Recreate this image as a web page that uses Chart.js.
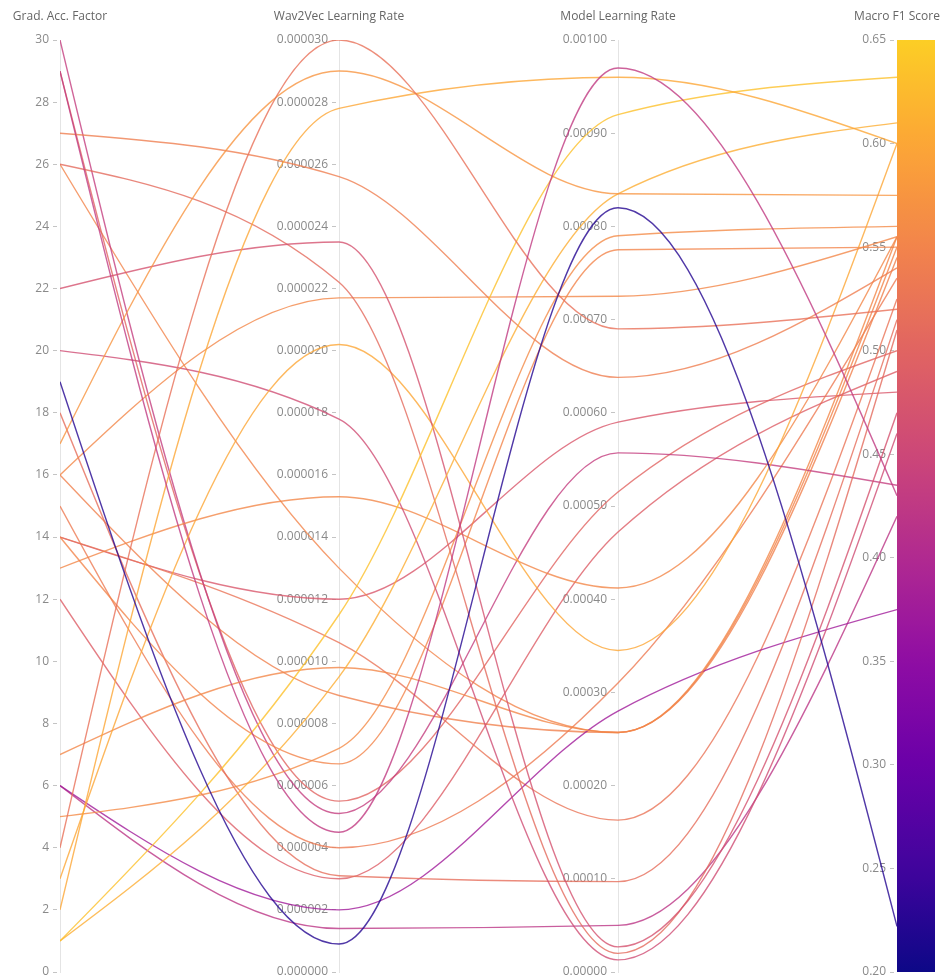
<!DOCTYPE html>
<html>
<head>
<meta charset="utf-8">
<script src="https://cdn.jsdelivr.net/npm/chart.js@4.4.1/dist/chart.umd.min.js"></script>
<style>
  html, body { margin: 0; padding: 0; background: #ffffff; }
  #wrap { width: 941px; height: 980px; }
</style>
</head>
<body>
<div id="wrap"><canvas id="c" width="941" height="980"></canvas></div>
<script>
// ---------------- data ----------------
const axisNames = ['Grad. Acc. Factor', 'Wav2Vec Learning Rate', 'Model Learning Rate', 'Macro F1 Score'];
const axisMin = [0, 0, 0, 0.20];
const axisMax = [30, 0.000030, 0.00100, 0.65];
const axisStep = [2, 0.000002, 0.0001, 0.05];
const axisDecimals = [0, 6, 5, 2];

const gradAcc = [19, 29, 4, 17, 2, 1, 1, 27, 22, 26, 16, 3, 20, 13, 7, 5, 14, 30, 29, 18, 6, 6, 14, 12, 26, 16, 15, 14];
const wav2vecLR = [0.0000009, 0.0000045, 0.0000300, 0.0000290, 0.0000278, 0.0000115, 0.0000095, 0.0000256, 0.0000235, 0.0000222,
                   0.0000217, 0.0000202, 0.0000178, 0.0000153, 0.0000098, 0.0000072, 0.0000067, 0.0000051, 0.0000055, 0.0000031,
                   0.0000020, 0.0000014, 0.0000106, 0.0000030, 0.0000130, 0.0000089, 0.0000040, 0.0000120];
const modelLR = [0.00082, 0.00097, 0.00069, 0.000835, 0.00096, 0.00092, 0.000835, 0.000638, 0.000027, 0.00002,
                 0.000725, 0.000345, 0.000013, 0.000412, 0.000257, 0.00079, 0.000775, 0.000557, 0.000515, 0.000097,
                 0.00028, 0.00005, 0.000163, 0.000472, 0.000257, 0.000257, 0.00031, 0.00059];
const macroF1 = [0.222, 0.43, 0.52, 0.575, 0.60, 0.632, 0.61, 0.54, 0.47, 0.51,
                 0.555, 0.60, 0.46, 0.555, 0.555, 0.56, 0.55, 0.435, 0.50, 0.515,
                 0.375, 0.42, 0.525, 0.49, 0.55, 0.545, 0.535, 0.48];

// ---------------- colour map (plasma) ----------------
const plasmaStops = ['#0d0887', '#41049d', '#6a00a8', '#8f0da4', '#b12a90', '#cc4778', '#e16462', '#f2844b', '#fca636', '#fcce25', '#f0f921'];
function hexToRgb(h) { return [parseInt(h.slice(1, 3), 16), parseInt(h.slice(3, 5), 16), parseInt(h.slice(5, 7), 16)]; }
function plasma(t) {
  t = Math.max(0, Math.min(1, t));
  const p = t * (plasmaStops.length - 1);
  const i = Math.min(Math.floor(p), plasmaStops.length - 2);
  const f = p - i;
  const a = hexToRgb(plasmaStops[i]), b = hexToRgb(plasmaStops[i + 1]);
  return [0, 1, 2].map(k => Math.round(a[k] + (b[k] - a[k]) * f));
}
const CMAP_TOP = 0.9;
function f1Color(v, alpha) {
  const t = (v - axisMin[3]) / (axisMax[3] - axisMin[3]) * CMAP_TOP;
  const c = plasma(t);
  return 'rgba(' + c[0] + ',' + c[1] + ',' + c[2] + ',' + alpha + ')';
}

// ---------------- build datasets ----------------
const columns = [gradAcc, wav2vecLR, modelLR, macroF1];
function norm(axis, v) { return (v - axisMin[axis]) / (axisMax[axis] - axisMin[axis]); }
const datasets = macroF1.map((f, r) => ({
  data: columns.map((col, a) => ({ x: a, y: norm(a, col[r]) })),
  yAxisID: 'yn',
  borderColor: f1Color(f, 0.8),
  borderWidth: 1.4,
  pointRadius: 0,
  fill: false,
  cubicInterpolationMode: 'monotone'
}));

// d3.curveMonotoneX tangents applied to the library's own points
function slope3(x0, y0, x1, y1, x2, y2) {
  const h0 = x1 - x0, h1 = x2 - x1;
  const s0 = (y1 - y0) / h0, s1 = (y2 - y1) / h1;
  const p = (s0 * h1 + s1 * h0) / (h0 + h1);
  return (Math.sign(s0) + Math.sign(s1)) * Math.min(Math.abs(s0), Math.abs(s1), 0.5 * Math.abs(p)) || 0;
}
const monotoneX = {
  id: 'monotoneX',
  beforeDatasetDraw(chart, args) {
    const meta = args.meta;
    const line = meta.dataset;
    const pts = meta.data;
    if (!line || pts.length < 3) return;
    line.updateControlPoints(chart.chartArea, 'x');
    const n = pts.length;
    const t = new Array(n);
    for (let i = 1; i < n - 1; i++) {
      t[i] = slope3(pts[i - 1].x, pts[i - 1].y, pts[i].x, pts[i].y, pts[i + 1].x, pts[i + 1].y);
    }
    t[0] = (3 * (pts[1].y - pts[0].y) / (pts[1].x - pts[0].x) - t[1]) / 2;
    t[n - 1] = (3 * (pts[n - 1].y - pts[n - 2].y) / (pts[n - 1].x - pts[n - 2].x) - t[n - 2]) / 2;
    for (let i = 0; i < n; i++) {
      const p = pts[i];
      if (i > 0) {
        const d = (p.x - pts[i - 1].x) / 3;
        p.cp1x = p.x - d; p.cp1y = p.y - t[i] * d;
      } else { p.cp1x = p.x; p.cp1y = p.y; }
      if (i < n - 1) {
        const d = (pts[i + 1].x - p.x) / 3;
        p.cp2x = p.x + d; p.cp2y = p.y + t[i] * d;
      } else { p.cp2x = p.x; p.cp2y = p.y; }
    }
    line._path = undefined;
  }
};

// colour bar on the last axis
const colorBar = {
  id: 'colorBar',
  afterDatasetsDraw(chart) {
    const ctx = chart.ctx;
    const s = chart.scales.y3;
    const x0 = chart.scales.x.getPixelForValue(3);
    const top = s.getPixelForValue(axisMax[3]);
    const bottom = s.getPixelForValue(axisMin[3]);
    const g = ctx.createLinearGradient(0, bottom, 0, top);
    for (let i = 0; i <= 40; i++) {
      const c = plasma(i / 40 * CMAP_TOP);
      g.addColorStop(i / 40, 'rgb(' + c.join(',') + ')');
    }
    ctx.save();
    ctx.fillStyle = g;
    ctx.fillRect(x0, top, 38, bottom - top);
    ctx.restore();
  }
};

// ---------------- axes ----------------
const PX_PER_UNIT = (897 - 60) / 3;          // horizontal pixels between two axes
const LABEL_GAP = 11 / PX_PER_UNIT;          // tick labels sit left of the axis line
const TICK_GAP = 3 / PX_PER_UNIT;            // small detached tick dashes
const tickFont = { family: '"Open Sans", "DejaVu Sans", sans-serif', size: 12 };
const titleFont = { family: '"Open Sans", "DejaVu Sans", sans-serif', size: 12 };
function noPad(scale) { scale.paddingLeft = 0; scale.paddingRight = 0; scale.paddingTop = 0; scale.paddingBottom = 0; }

const scales = {
  x: {
    type: 'linear', axis: 'x', min: 0, max: 3, position: 'top',
    grid: { display: false, drawTicks: false },
    border: { display: false },
    ticks: {
      stepSize: 1, padding: 16, color: '#666666', font: titleFont, maxRotation: 0, autoSkip: false,
      callback: v => axisNames[v] ?? ''
    },
    afterFit: s => { s.height = 40; noPad(s); }
  },
  yn: { type: 'linear', axis: 'y', min: 0, max: 1, display: false, afterFit: noPad }
};
for (let a = 0; a < 4; a++) {
  // vertical axis line
  scales['line' + a] = {
    type: 'linear', axis: 'y', min: axisMin[a], max: axisMax[a], position: { x: a },
    grid: { display: false },
    border: { display: a < 3, color: '#e4e4e4', width: 1 },
    ticks: { display: false, stepSize: axisStep[a], maxTicksLimit: 40 },
    afterFit: noPad
  };
  // tick dashes
  scales['tick' + a] = {
    type: 'linear', axis: 'y', min: axisMin[a], max: axisMax[a], position: { x: a - TICK_GAP },
    grid: { display: true, drawOnChartArea: false, drawTicks: true, tickLength: 4, tickColor: '#c4c4c4' },
    border: { display: false },
    ticks: { display: false, stepSize: axisStep[a], maxTicksLimit: 40 },
    afterFit: noPad
  };
  // tick labels
  scales['y' + a] = {
    type: 'linear', axis: 'y', min: axisMin[a], max: axisMax[a], position: { x: a - LABEL_GAP },
    grid: { display: false },
    border: { display: false },
    ticks: {
      stepSize: axisStep[a], maxTicksLimit: 40, color: '#8a8a8a', font: tickFont,
      callback: v => Number(v).toFixed(axisDecimals[a])
    },
    afterFit: noPad
  };
}

new Chart(document.getElementById('c'), {
  type: 'line',
  data: { datasets },
  options: {
    responsive: false,
    animation: false,
    events: [],
    layout: { padding: { left: 60, right: 44, top: 0, bottom: 8 } },
    plugins: { legend: { display: false }, tooltip: { enabled: false } },
    scales
  },
  plugins: [monotoneX, colorBar]
});
</script>
</body>
</html>
